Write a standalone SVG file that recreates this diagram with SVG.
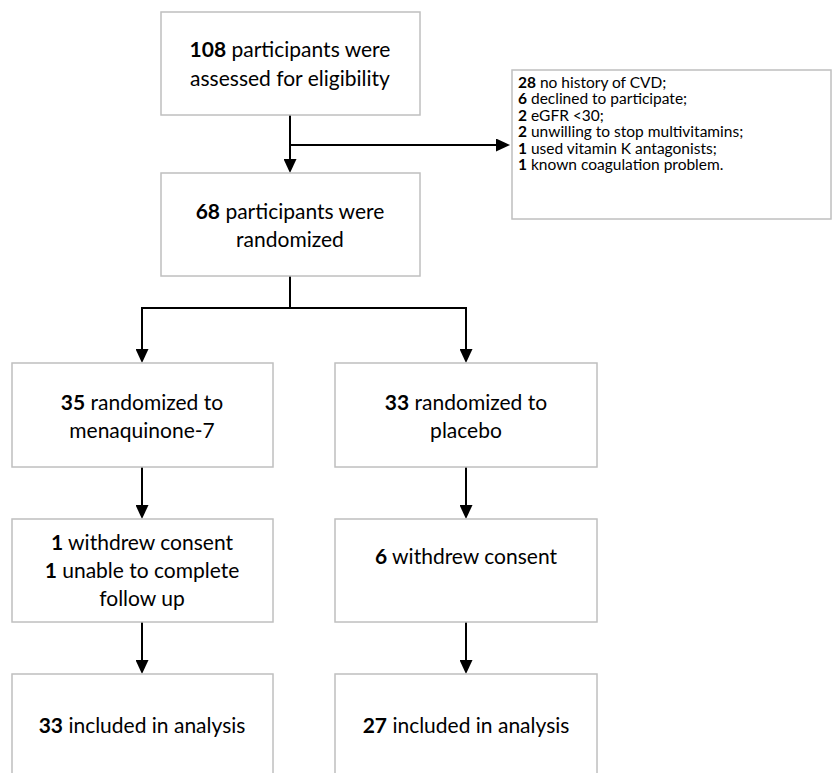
<svg xmlns="http://www.w3.org/2000/svg" width="832" height="773" viewBox="0 0 832 773">
<style>
.box{fill:#fff;stroke:#bfbfbf;stroke-width:1.5}
.t{font-family:Lato,"Liberation Sans",Arial,sans-serif;font-size:21px;fill:#000;text-anchor:middle}
.s{font-family:Lato,"Liberation Sans",Arial,sans-serif;font-size:15.5px;fill:#000}
.n{font-weight:bold}
.c{fill:none;stroke:#000;stroke-width:2}
</style>
<defs>
<marker id="ah" markerUnits="userSpaceOnUse" markerWidth="14" markerHeight="13" refX="11" refY="6.5" orient="auto">
<path d="M0,0 L14,6.5 L0,13 z" fill="#000"/>
</marker>
</defs>
<rect width="832" height="773" fill="#fff"/>
<g id="connectors">
<path class="c" d="M290,115 V170" marker-end="url(#ah)"/>
<path class="c" d="M290,145 H507" marker-end="url(#ah)"/>
<path class="c" d="M290,276 V308 M141,308 H467"/>
<path class="c" d="M142,307 V360" marker-end="url(#ah)"/>
<path class="c" d="M466,307 V360" marker-end="url(#ah)"/>
<path class="c" d="M142,467 V516" marker-end="url(#ah)"/>
<path class="c" d="M466,467 V516" marker-end="url(#ah)"/>
<path class="c" d="M142,622 V671" marker-end="url(#ah)"/>
<path class="c" d="M466,622 V671" marker-end="url(#ah)"/>
</g>
<g id="assessed">
<rect class="box" x="161" y="12" width="259" height="103"/>
<text class="t" x="290" y="57"><tspan class="n">108</tspan> participants were</text>
<text class="t" x="290" y="86">assessed for eligibility</text>
</g>
<g id="excluded">
<rect class="box" x="512" y="70" width="319" height="149"/>
<text class="s" x="518" y="87.5"><tspan class="n">28</tspan> no history of CVD;</text>
<text class="s" x="518" y="104"><tspan class="n">6</tspan> declined to participate;</text>
<text class="s" x="518" y="120.5"><tspan class="n">2</tspan> eGFR &lt;30;</text>
<text class="s" x="518" y="137"><tspan class="n">2</tspan> unwilling to stop multivitamins;</text>
<text class="s" x="518" y="153.5"><tspan class="n">1</tspan> used vitamin K antagonists;</text>
<text class="s" x="518" y="170"><tspan class="n">1</tspan> known coagulation problem.</text>
</g>
<g id="randomized">
<rect class="box" x="161" y="173" width="259" height="103"/>
<text class="t" x="290" y="219"><tspan class="n">68</tspan> participants were</text>
<text class="t" x="290" y="247">randomized</text>
</g>
<g id="mk7">
<rect class="box" x="12" y="363" width="261" height="104"/>
<text class="t" x="142" y="410"><tspan class="n">35</tspan> randomized to</text>
<text class="t" x="142" y="438">menaquinone-7</text>
</g>
<g id="placebo">
<rect class="box" x="335" y="363" width="262" height="104"/>
<text class="t" x="466" y="410"><tspan class="n">33</tspan> randomized to</text>
<text class="t" x="466" y="438">placebo</text>
</g>
<g id="mk7-loss">
<rect class="box" x="12" y="519" width="261" height="103"/>
<text class="t" x="142" y="550"><tspan class="n">1</tspan> withdrew consent</text>
<text class="t" x="142" y="578"><tspan class="n">1</tspan> unable to complete</text>
<text class="t" x="142" y="606">follow up</text>
</g>
<g id="placebo-loss">
<rect class="box" x="335" y="519" width="262" height="103"/>
<text class="t" x="466" y="564"><tspan class="n">6</tspan> withdrew consent</text>
</g>
<g id="mk7-analysis">
<rect class="box" x="12" y="674" width="261" height="110"/>
<text class="t" x="142" y="733"><tspan class="n">33</tspan> included in analysis</text>
</g>
<g id="placebo-analysis">
<rect class="box" x="335" y="674" width="262" height="110"/>
<text class="t" x="466" y="733"><tspan class="n">27</tspan> included in analysis</text>
</g>
</svg>
